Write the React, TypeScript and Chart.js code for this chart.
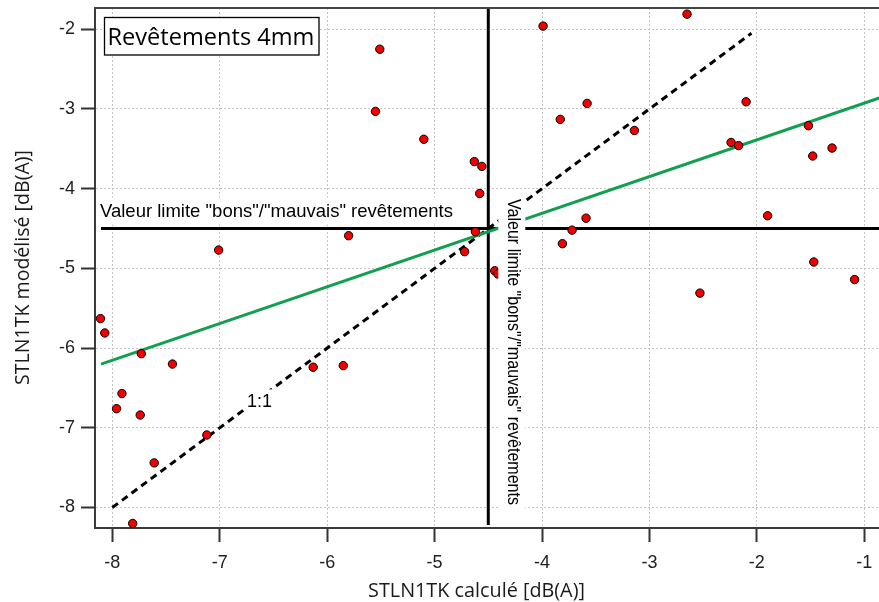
import React, { useEffect, useRef } from "react";
import { Chart, registerables } from "chart.js";

Chart.register(...registerables);

// ---- data ----
const X_TICKS = [-8, -7, -6, -5, -4, -3, -2, -1];
const Y_TICKS = [-8, -7, -6, -5, -4, -3, -2];
const X_MIN = -8.161;
const X_MAX = -0.863;
const Y_MIN = -8.257;
const Y_MAX = -1.733;

const PT_X = [
  -5.51, -5.55, -5.10, -7.01, -5.80, -3.99, -2.65, -3.83, -3.58, -3.14,
  -2.10, -2.24, -2.17, -1.52, -1.48, -1.30, -1.90, -1.47, -1.09, -2.53,
  -3.59, -3.72, -3.81, -4.63, -4.56, -4.58, -4.62, -4.72, -4.44, -4.41,
  -8.11, -8.07, -7.73, -7.44, -7.91, -7.96, -7.74, -7.12, -7.61, -7.81,
  -6.13, -5.85,
];
const PT_Y = [
  -2.25, -3.03, -3.38, -4.77, -4.59, -1.96, -1.81, -3.13, -2.93, -3.27,
  -2.91, -3.42, -3.46, -3.21, -3.59, -3.49, -4.34, -4.92, -5.14, -5.31,
  -4.37, -4.52, -4.69, -3.66, -3.72, -4.06, -4.54, -4.79, -5.03, -5.07,
  -5.63, -5.81, -6.07, -6.20, -6.57, -6.76, -6.84, -7.09, -7.44, -8.20,
  -6.24, -6.22,
];

const DIAG_X = [-8, -2.05];
const DIAG_Y = [-8, -2.05];
const FIT_X = [-8.105, -0.86];
const FIT_Y = [-6.2, -2.862];
const LIMIT = -4.5;
const HLINE_X = [-8.105, -0.86];
const VLINE_Y = [-8.22, -1.733];

const TITLE = "Revêtements 4mm";
const X_TITLE = "STLN1TK calculé [dB(A)]";
const Y_TITLE = "STLN1TK modélisé [dB(A)]";
const LIMIT_LABEL = 'Valeur limite "bons"/"mauvais" revêtements';
const DIAG_LABEL = "1:1";

const ARIAL = '"Liberation Sans", Arial, sans-serif';
const HUMAN = '"Open Sans", "Noto Sans", sans-serif';

const pairs = (xs: number[], ys: number[]) => xs.map((x, i) => ({ x, y: ys[i] }));

function fitFont(ctx: CanvasRenderingContext2D, text: string, family: string, target: number) {
  ctx.font = `20px ${family}`;
  const w = ctx.measureText(text).width;
  return (20 * target) / w;
}

const overlay = {
  id: "overlay",
  afterDatasetsDraw(chart: any) {
    const { ctx, chartArea, scales } = chart;
    const xs = scales.x;
    const ys = scales.y;
    ctx.save();
    ctx.textBaseline = "alphabetic";
    ctx.textAlign = "left";

    // horizontal limit label
    const yl = ys.getPixelForValue(LIMIT);
    ctx.font = `18.5px ${ARIAL}`;
    const hw = ctx.measureText(LIMIT_LABEL).width;
    ctx.fillStyle = "#ffffff";
    ctx.fillRect(99, yl - 31, hw + 3, 27);
    ctx.fillStyle = "#000000";
    ctx.fillText(LIMIT_LABEL, 100, yl - 12);

    // vertical limit label
    const xl = xs.getPixelForValue(LIMIT);
    ctx.fillStyle = "#ffffff";
    ctx.fillRect(xl + 10, 195, 27, 316);
    ctx.save();
    ctx.translate(xl + 20, 199);
    ctx.rotate(Math.PI / 2);
    ctx.font = `19px ${ARIAL}`;
    const vw = ctx.measureText(LIMIT_LABEL).width;
    ctx.scale(306 / vw, 1);
    ctx.fillStyle = "#000000";
    ctx.fillText(LIMIT_LABEL, 0, 0);
    ctx.restore();

    // 1:1 label
    const dx = xs.getPixelForValue(-6.63);
    const dy = ys.getPixelForValue(-6.63);
    ctx.font = `18px ${ARIAL}`;
    const dw = ctx.measureText(DIAG_LABEL).width;
    ctx.fillStyle = "#ffffff";
    ctx.fillRect(dx - dw / 2 - 3, dy - 9, dw + 6, 20);
    ctx.fillStyle = "#000000";
    ctx.textAlign = "center";
    ctx.fillText(DIAG_LABEL, dx, dy + 8.5);

    // title box
    ctx.textAlign = "left";
    ctx.fillStyle = "#ffffff";
    ctx.fillRect(104.5, 17.5, 214.5, 37.5);
    ctx.strokeStyle = "#000000";
    ctx.lineWidth = 1.3;
    ctx.strokeRect(104.5, 17.5, 214.5, 37.5);
    const ts = fitFont(ctx, TITLE, HUMAN, 207);
    ctx.font = `${ts}px ${HUMAN}`;
    ctx.fillStyle = "#000000";
    ctx.fillText(TITLE, 107.5, 45);

    // top frame
    ctx.strokeStyle = "#444444";
    ctx.lineWidth = 2;
    ctx.beginPath();
    ctx.moveTo(chartArea.left - 1, chartArea.top);
    ctx.lineTo(chartArea.right, chartArea.top);
    ctx.stroke();
    ctx.restore();
  },
  afterDraw(chart: any) {
    const { ctx } = chart;
    ctx.save();
    ctx.fillStyle = "#1a1a1a";
    ctx.textBaseline = "alphabetic";
    ctx.textAlign = "center";
    const xsz = fitFont(ctx, X_TITLE, HUMAN, 217);
    ctx.font = `${xsz}px ${HUMAN}`;
    ctx.fillText(X_TITLE, 476.5, 596.5);
    const ysz = fitFont(ctx, Y_TITLE, HUMAN, 235);
    ctx.save();
    ctx.translate(28.5, 267.5);
    ctx.rotate(-Math.PI / 2);
    ctx.font = `${ysz}px ${HUMAN}`;
    ctx.fillText(Y_TITLE, 0, 0);
    ctx.restore();
    ctx.restore();
  },
};

const zeroPad = (s: any) => {
  s.paddingLeft = 0;
  s.paddingRight = 0;
  s.paddingTop = 0;
  s.paddingBottom = 0;
};

export default function App() {
  const ref = useRef<HTMLCanvasElement | null>(null);

  useEffect(() => {
    document.body.style.margin = "0";
    const canvas = ref.current;
    if (!canvas) return;
    const gridCommon = {
      color: "#c4c4c4",
      lineWidth: 1,
      drawTicks: true,
      tickLength: 14,
      tickColor: "#333333",
      tickWidth: 2,
      tickBorderDash: [],
    };
    const chart = new Chart(canvas, {
      type: "scatter",
      data: {
        datasets: [
          {
            label: "points",
            data: pairs(PT_X, PT_Y),
            pointRadius: 4.2,
            pointBackgroundColor: "#f00000",
            pointBorderColor: "#000000",
            pointBorderWidth: 1,
            showLine: false,
          },
          {
            label: "fit",
            data: pairs(FIT_X, FIT_Y),
            showLine: true,
            borderColor: "#12a04f",
            borderWidth: 3,
            pointRadius: 0,
          },
          {
            label: "1:1",
            data: pairs(DIAG_X, DIAG_Y),
            showLine: true,
            borderColor: "#000000",
            borderWidth: 3,
            borderDash: [7, 5],
            pointRadius: 0,
          },
          {
            label: "hlimit",
            data: pairs(HLINE_X, [LIMIT, LIMIT]),
            showLine: true,
            borderColor: "#000000",
            borderWidth: 3,
            pointRadius: 0,
          },
          {
            label: "vlimit",
            data: pairs([LIMIT, LIMIT], VLINE_Y),
            showLine: true,
            borderColor: "#000000",
            borderWidth: 3,
            pointRadius: 0,
          },
        ],
      },
      options: {
        animation: false,
        responsive: false,
        devicePixelRatio: 1,
        layout: { autoPadding: false, padding: { top: 8, left: 0, right: 0, bottom: 0 } },
        plugins: { legend: { display: false }, tooltip: { enabled: false } },
        scales: {
          x: {
            type: "linear",
            position: "bottom",
            min: X_MIN,
            max: X_MAX,
            afterFit: (s: any) => {
              s.height = 74;
              zeroPad(s);
            },
            afterBuildTicks: (s: any) => {
              s.ticks = X_TICKS.map((v) => ({ value: v }));
            },
            ticks: {
              autoSkip: false,
              maxRotation: 0,
              padding: 10,
              color: "#222222",
              font: { family: ARIAL, size: 18 },
              callback: (v: any) => String(v),
            },
            grid: gridCommon,
            border: { display: true, color: "#3a3a3a", width: 2, dash: [2, 2] },
          },
          y: {
            type: "linear",
            position: "left",
            min: Y_MIN,
            max: Y_MAX,
            afterFit: (s: any) => {
              s.width = 95;
              zeroPad(s);
            },
            afterBuildTicks: (s: any) => {
              s.ticks = Y_TICKS.map((v) => ({ value: v }));
            },
            ticks: {
              autoSkip: false,
              padding: 6,
              color: "#222222",
              font: { family: ARIAL, size: 18 },
              callback: (v: any) => String(v),
            },
            grid: gridCommon,
            border: { display: true, color: "#3a3a3a", width: 2, dash: [2, 2] },
          },
        },
      },
      plugins: [overlay],
    } as any);
    return () => chart.destroy();
  }, []);

  return (
    <div style={{ width: 879, height: 602 }}>
      <canvas ref={ref} width={879} height={602} style={{ display: "block", width: 879, height: 602 }} />
    </div>
  );
}
